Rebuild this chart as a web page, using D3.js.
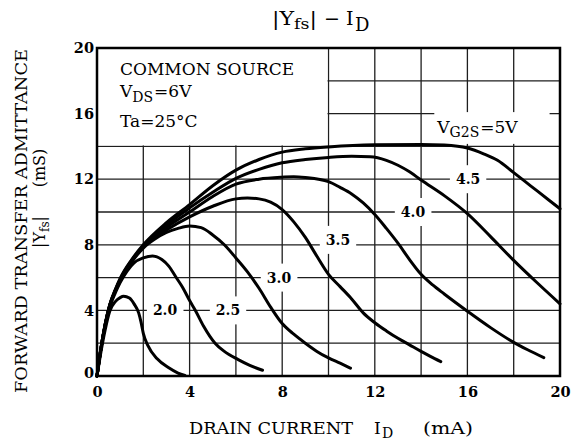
<!DOCTYPE html>
<html><head><meta charset="utf-8">
<script src="https://cdn.jsdelivr.net/npm/d3@7"></script>
<style>
body{margin:0;background:#fff}
svg text{font-family:"DejaVu Serif",serif;fill:#000;white-space:pre}
</style>
</head><body>
<svg id="c" width="574" height="441"></svg>
<script>
// ---- data ----
const xTicks = [0, 4, 8, 12, 16, 20];
const yTicks = [0, 4, 8, 12, 16, 20];
const gridStep = 2;
const curveNames = ["2.0", "2.5", "3.0", "3.5", "4.0", "4.5", "5V"];
const vg20 = [[0,0],[0.15,1.3],[0.35,2.8],[0.55,3.95],[0.8,4.55],[1.0,4.78],[1.15,4.86],[1.4,4.75],[1.6,4.4],[1.8,3.85],[1.9,3.3],[2.0,2.6],[2.2,1.85],[2.6,1.05],[3.1,0.5],[3.5,0.18],[3.8,0.03]];
const vg25 = [[0,0],[0.15,1.5],[0.35,3.05],[0.55,4.2],[0.8,5.1],[1.0,5.7],[1.3,6.4],[1.6,6.9],[2.0,7.2],[2.4,7.32],[2.8,7.1],[3.1,6.7],[3.4,6.05],[3.7,5.4],[4.0,4.6],[4.25,4.0],[4.6,3.05],[5.1,2.0],[5.5,1.5],[6.1,1.0],[6.6,0.65],[7.15,0.35]];
const vg30 = [[0,0],[0.15,1.5],[0.35,3.1],[0.55,4.3],[0.8,5.2],[1.0,5.8],[1.5,6.95],[2.0,7.8],[2.5,8.35],[3.0,8.75],[3.5,9.0],[4.0,9.15],[4.5,9.05],[5.0,8.6],[5.5,8.0],[6.0,7.2],[6.5,6.35],[7.0,5.35],[7.5,4.2],[8.0,3.2],[8.5,2.55],[9.0,2.0],[9.5,1.5],[10.0,1.1],[10.5,0.78],[10.95,0.48]];
const vg35 = [[0,0],[0.15,1.5],[0.35,3.1],[0.55,4.3],[0.8,5.25],[1.0,5.85],[1.5,7.0],[2.0,7.9],[3.0,8.9],[4.0,9.7],[5.0,10.35],[6.0,10.8],[6.5,10.85],[7.0,10.8],[7.5,10.6],[8.0,10.15],[8.5,9.4],[9.0,8.45],[9.5,7.3],[10.0,6.2],[10.5,5.45],[11.0,4.7],[11.5,3.85],[12.0,3.25],[12.5,2.75],[13.0,2.3],[13.5,1.9],[14.0,1.5],[14.4,1.2],[14.85,0.88]];
const vg40 = [[0,0],[0.15,1.5],[0.35,3.1],[0.55,4.3],[0.8,5.25],[1.0,5.85],[1.5,7.0],[2.0,7.9],[3.0,9.05],[4.0,10.0],[5.0,10.95],[6.0,11.7],[7.0,12.0],[8.0,12.12],[8.5,12.15],[9.0,12.1],[10.0,11.85],[10.5,11.5],[11.0,11.1],[11.5,10.55],[12.0,9.85],[12.5,9.0],[13.0,8.1],[13.5,7.1],[14.0,6.2],[14.5,5.55],[15.0,5.0],[16.0,3.95],[17.0,2.95],[18.0,2.05],[18.6,1.6],[19.3,1.12]];
const vg45 = [[0,0],[0.15,1.5],[0.35,3.1],[0.55,4.3],[0.8,5.25],[1.0,5.9],[1.5,7.05],[2.0,7.95],[3.0,9.2],[4.0,10.25],[5.0,11.2],[6.0,12.05],[7.0,12.6],[8.0,13.0],[9.0,13.2],[10.0,13.33],[11.0,13.4],[11.8,13.37],[12.5,13.15],[13.0,12.85],[13.5,12.45],[14.0,11.95],[15.0,11.0],[16.0,9.9],[17.0,8.5],[18.0,7.05],[19.0,5.7],[20.0,4.4]];
const vg50 = [[0,0],[0.15,1.5],[0.35,3.15],[0.55,4.35],[0.8,5.3],[1.0,5.95],[1.5,7.1],[2.0,8.0],[3.0,9.35],[4.0,10.45],[5.0,11.6],[6.0,12.55],[7.0,13.2],[8.0,13.65],[9.0,13.85],[10.0,13.97],[12.0,14.1],[14.0,14.12],[15.0,14.08],[16.0,13.9],[16.7,13.55],[17.3,13.15],[18.0,12.4],[18.5,11.85],[19.0,11.3],[20.0,10.2]];
const seriesList = [vg20, vg25, vg30, vg35, vg40, vg45, vg50];
// label anchor positions for curve names (data units)
const labelAt = [[2.94,4],[5.66,4],[7.86,6],[10.41,8.3],[13.65,10],[16.03,12]];

// ---- layout ----
const svg = d3.select("#c");
const x = d3.scaleLinear().domain([0, 20]).range([97, 560]);
const y = d3.scaleLinear().domain([0, 20]).range([376, 48]);

// grid
const g = svg.append("g");
g.selectAll(".vg").data(d3.range(gridStep, 20, gridStep)).join("line")
  .attr("x1", d => x(d)).attr("x2", d => x(d)).attr("y1", y(0)).attr("y2", y(20))
  .attr("stroke", "#1e1e1e").attr("stroke-width", 1.3);
g.selectAll(".hg").data(d3.range(gridStep, 20, gridStep)).join("line")
  .attr("y1", d => y(d)).attr("y2", d => y(d)).attr("x1", x(0)).attr("x2", x(20))
  .attr("stroke", "#1e1e1e").attr("stroke-width", 1.3);

// legend box (white, covering grid)
svg.append("rect").attr("x", x(0)).attr("y", y(20))
  .attr("width", x(10) - x(0) - 1).attr("height", y(14) - y(20) - 1).attr("fill", "#fff");

// curve label backgrounds
const labBg = svg.append("g");
const labG = svg.append("g");
const labs = labG.selectAll("text").data(labelAt).join("text")
  .attr("x", d => x(d[0])).attr("y", d => y(d[1]))
  .attr("text-anchor", "middle").attr("dominant-baseline", "central")
  .attr("font-size", 14).attr("font-weight", "bold")
  .text((d, i) => curveNames[i]);
labs.each(function() {
  const b = this.getBBox();
  labBg.append("rect").attr("x", b.x - 6).attr("y", b.y - 6)
    .attr("width", b.width + 12).attr("height", b.height + 12).attr("fill", "#fff");
});

// V_G2S label
const vBg = svg.append("g");
const vl = svg.append("text").attr("x", x(14.7)).attr("y", 133).attr("font-size", 17);
vl.append("tspan").text("V");
vl.append("tspan").attr("font-size", 14).attr("dy", 4).text("G2S");
vl.append("tspan").attr("dy", -4).attr("dx", 1).text("=5V");
const vb = vl.node().getBBox();
vBg.append("rect").attr("x", vb.x - 2).attr("y", y(16) - 1.5)
  .attr("width", x(19.55) - vb.x + 2).attr("height", y(14) - y(16) - 1).attr("fill", "#fff");

// curves
const line = d3.line().x(d => x(d[0])).y(d => y(d[1])).curve(d3.curveMonotoneX);
svg.append("g").selectAll("path").data(seriesList).join("path")
  .attr("d", line).attr("fill", "none").attr("stroke", "#000")
  .attr("stroke-width", 3).attr("stroke-linejoin", "round").attr("stroke-linecap", "round");

// raise label text above curves
labG.raise();

// frame
svg.append("rect").attr("x", x(0)).attr("y", y(20)).attr("width", x(20) - x(0)).attr("height", y(0) - y(20))
  .attr("fill", "none").attr("stroke", "#000").attr("stroke-width", 2.5);

// axes
const xa = svg.append("g").attr("transform", `translate(0,${y(0)})`)
  .call(d3.axisBottom(x).tickValues(xTicks).tickSize(0).tickPadding(11).tickFormat(d3.format("d")));
const ya = svg.append("g").attr("transform", `translate(${x(0)},0)`)
  .call(d3.axisLeft(y).tickValues(yTicks).tickSize(0).tickPadding(3).tickFormat(d3.format("d")));
[xa, ya].forEach(a => {
  a.select(".domain").remove();
  a.selectAll("text").attr("font-family", "DejaVu Serif").attr("font-size", 14.5)
    .attr("font-weight", "bold").attr("fill", "#000");
});
ya.selectAll(".tick").filter(d => d === 0).select("text").attr("dy", "0.1em");

// legend texts
svg.append("text").attr("x", 120).attr("y", 75).attr("font-size", 17).text("COMMON SOURCE");
const t2 = svg.append("text").attr("x", 120).attr("y", 97).attr("font-size", 17);
t2.append("tspan").text("V");
t2.append("tspan").attr("font-size", 14).attr("dy", 5).text("DS");
t2.append("tspan").attr("dy", -5).attr("dx", 1).text("=6V");
svg.append("text").attr("x", 120).attr("y", 127).attr("font-size", 17).text("Ta=25°C");

// title
const tt = svg.append("text").attr("x", 272).attr("y", 25).attr("font-size", 19)
  .attr("textLength", 45).attr("lengthAdjust", "spacingAndGlyphs");
tt.append("tspan").text("|Y");
tt.append("tspan").attr("font-size", 15).attr("dy", 4).text("fs");
tt.append("tspan").attr("dy", -4).text("|");
svg.append("text").attr("x", 332).attr("y", 25).attr("font-size", 19)
  .attr("text-anchor", "middle").text("\u2212");
svg.append("text").attr("x", 346).attr("y", 25).attr("font-size", 19).text("I");
svg.append("text").attr("x", 355).attr("y", 31).attr("font-size", 18).text("D");

// x axis label
svg.append("text").attr("x", 189).attr("y", 434).attr("font-size", 17)
  .attr("textLength", 164).attr("lengthAdjust", "spacingAndGlyphs").text("DRAIN CURRENT");
svg.append("text").attr("x", 374).attr("y", 434).attr("font-size", 17).text("I");
svg.append("text").attr("x", 382).attr("y", 438).attr("font-size", 14).text("D");
svg.append("text").attr("x", 423).attr("y", 434).attr("font-size", 17)
  .attr("textLength", 50).attr("lengthAdjust", "spacingAndGlyphs").text("(mA)");

// y axis label
svg.append("text").attr("transform", "translate(27,221) rotate(-90)")
  .attr("text-anchor", "middle").attr("font-size", 17)
  .attr("textLength", 344).attr("lengthAdjust", "spacingAndGlyphs")
  .text("FORWARD TRANSFER ADMITTANCE");
const yl = svg.append("text").attr("transform", "translate(45,232) rotate(-90)")
  .attr("text-anchor", "middle").attr("font-size", 16);
yl.append("tspan").text("|Y");
yl.append("tspan").attr("font-size", 12).attr("dy", 4).text("fs");
yl.append("tspan").attr("dy", -4).text("|");
svg.append("text").attr("transform", "translate(45,168) rotate(-90)")
  .attr("text-anchor", "middle").attr("font-size", 16).text("(mS)");
</script>
</body></html>
